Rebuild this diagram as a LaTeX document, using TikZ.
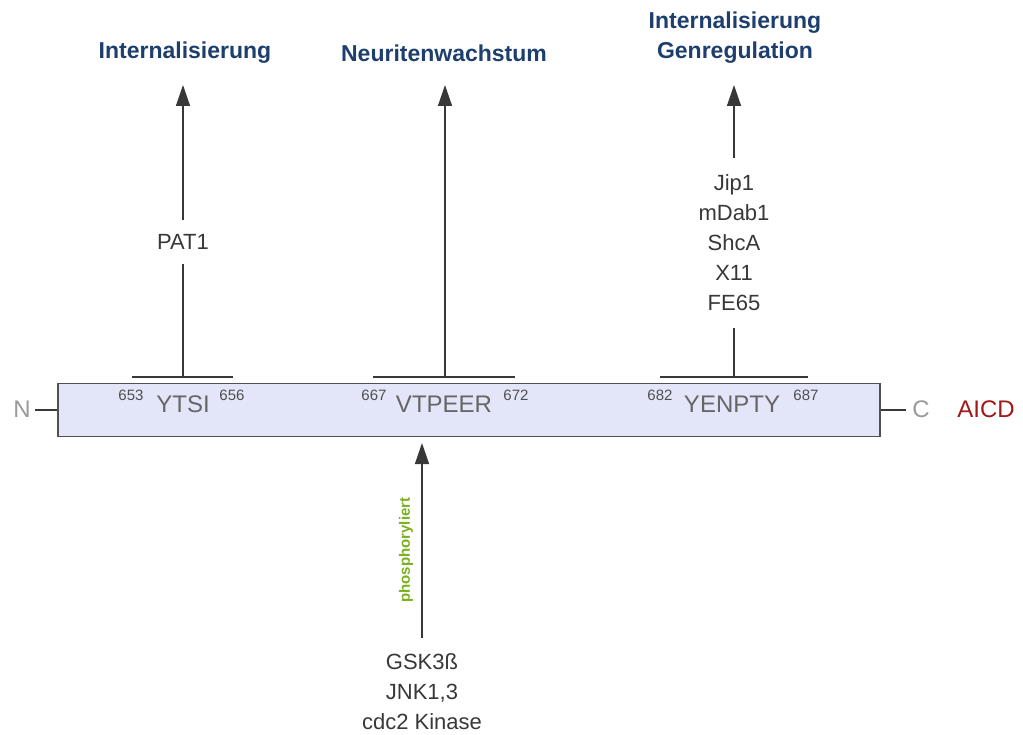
\documentclass[tikz,border=0pt]{standalone}
\usepackage{fontspec}
\setmainfont{Liberation Sans}
\usetikzlibrary{arrows.meta,calc}
\definecolor{linec}{HTML}{383838}
\definecolor{headc}{HTML}{1E3F6E}
\definecolor{barfill}{HTML}{E3E5F8}
\definecolor{barline}{HTML}{505050}
\definecolor{motifc}{HTML}{666666}
\definecolor{numc}{HTML}{505050}
\definecolor{bodyc}{HTML}{383838}
\definecolor{endc}{HTML}{9A9A9A}
\definecolor{aicdc}{HTML}{A01818}
\definecolor{phosc}{HTML}{78B01E}
\tikzset{
  head/.style={text=headc, font=\fontsize{23}{30}\selectfont\bfseries, align=center, inner sep=0pt},
  body/.style={text=bodyc, font=\fontsize{22}{30}\selectfont, align=center, inner xsep=2pt, inner ysep=12pt},
  motif/.style={text=motifc, font=\fontsize{24}{28}\selectfont, inner sep=0pt},
  num/.style={text=numc, font=\fontsize{15}{18}\selectfont, inner sep=0pt},
  endlbl/.style={text=endc, font=\fontsize{24}{28}\selectfont, inner sep=0pt},
  ln/.style={draw=linec, line width=1.4pt},
  arr/.style={ln, -{Triangle[length=21pt,width=14pt]}},
  bar/.style={draw=barline, line width=1.4pt, fill=barfill, minimum width=822pt, minimum height=53pt, inner sep=0pt}
}
\begin{document}
\begin{tikzpicture}[x=1pt,y=-1pt]
\useasboundingbox (0,0) rectangle (1023,735);

% headings
\node[head] (h1) at (185,53) {Internalisierung};
\node[head] (h2) at (444,53) {Neuritenwachstum};
\node[head] (h3) at (735,38) {Internalisierung\\Genregulation};

% bar
\node[bar] (bar) at (469,410) {};

% ends
\node[endlbl] (N) at (22,409) {N};
\node[endlbl] (C) at (921,409) {C};
\node[text=aicdc, font=\fontsize{24}{28}\selectfont, inner sep=0pt] (aicd) at (986,409) {AICD};
\coordinate (nl) at ($(N.east |- bar.west)+(4,0)$);
\coordinate (cl) at ($(C.west |- bar.east)+(-6,0)$);
\draw[ln] (nl) -- (bar.west);
\draw[ln] (bar.east) -- (cl);

% motifs
\node[motif] (y1) at (183,404) {YTSI};
\node[num] (n653) at (131,395) {653};
\node[num] (n656) at (232,395) {656};
\node[motif] (y2) at (444,404) {VTPEER};
\node[num] (n667) at (374,395) {667};
\node[num] (n672) at (516,395) {672};
\node[motif] (y3) at (732,404) {YENPTY};
\node[num] (n682) at (660,395) {682};
\node[num] (n687) at (806,395) {687};

% brackets
\coordinate (b1l) at (132,377); \coordinate (b1r) at (233,377); \coordinate (b1) at (183,377);
\coordinate (b2l) at (373,377); \coordinate (b2r) at (515,377); \coordinate (b2) at (445,377);
\coordinate (b3l) at (660,377); \coordinate (b3r) at (808,377); \coordinate (b3) at (734,377);
\draw[ln] (b1l) -- (b1r);
\draw[ln] (b2l) -- (b2r);
\draw[ln] (b3l) -- (b3r);

% tips
\coordinate (t1) at (183,85);
\coordinate (t2) at (445,85);
\coordinate (t3) at (734,85);

% connectors
\node[body, inner ysep=14pt] (pat1) at (183,242) {PAT1};
\draw[ln] (b1) -- (pat1);
\draw[arr] (pat1) -- (t1);

\draw[arr] (b2) -- (t2);

\node[body, inner ysep=17pt] (bind) at (734,243) {Jip1\\mDab1\\ShcA\\X11\\FE65};
\draw[ln] (b3) -- (bind);
\draw[arr] (bind) -- (t3);

% bottom
\node[body, inner ysep=16pt] (kin) at (422,692) {GSK3ß\\JNK1,3\\cdc2 Kinase};
\coordinate (t4) at (422,443);
\draw[arr] (kin) -- (t4);
\node[text=phosc, font=\fontsize{15}{18}\selectfont\bfseries, rotate=90, inner sep=0pt] (phos) at (406,550) {phosphoryliert};
\end{tikzpicture}
\end{document}
